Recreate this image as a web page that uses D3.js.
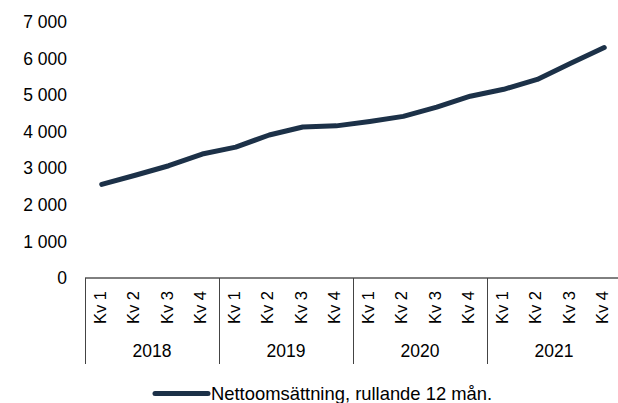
<!DOCTYPE html>
<html>
<head>
<meta charset="utf-8">
<script src="https://cdn.jsdelivr.net/npm/d3@7"></script>
<style>
    body { margin: 0; background: #fff; }
    svg { display: block; font-family: "Liberation Sans", Arial, sans-serif; }
</style>
</head>
<body>
<div id="chart"></div>
<script>
// Nettoomsättning, rullande 12 mån. per kvartal

const years = ['2018', '2019', '2020', '2021'];
const quarters = ['Kv 1', 'Kv 2', 'Kv 3', 'Kv 4'];
const values = [2560, 2810, 3070, 3390, 3580, 3910, 4130, 4160,
                4280, 4420, 4670, 4970, 5160, 5430, 5870, 6300];
const yTicks = [0, 1000, 2000, 3000, 4000, 5000, 6000, 7000];
const seriesName = 'Nettoomsättning, rullande 12 mån.';

const width = 618;
const height = 403;
const margin = { top: 22, right: -3, bottom: 125, left: 85 };
const lineColor = '#1c3148';

const svg = d3.select('#chart')
    .append('svg')
    .attr('width', width)
    .attr('height', height);

// one slot per quarter, e.g. "2018|Kv 1"
const keys = [];
years.forEach(y => quarters.forEach(q => keys.push(y + '|' + q)));

const x = d3.scaleBand()
    .domain(keys)
    .range([margin.left, width - margin.right]);

const y = d3.scaleLinear()
    .domain([0, 7000])
    .range([height - margin.bottom, margin.top]);

const fmt = v => d3.format(',')(v).replace(/,/g, ' ');

// y labels (no axis line)
svg.append('g')
    .selectAll('text')
    .data(yTicks)
    .enter()
    .append('text')
    .attr('x', 67)
    .attr('y', d => y(d))
    .attr('dy', '0.35em')
    .attr('text-anchor', 'end')
    .attr('font-size', 17.5)
    .attr('fill', '#000')
    .text(fmt);

// x axis line
const y0 = y(0);
svg.append('line')
    .attr('x1', x.range()[0])
    .attr('x2', x.range()[1])
    .attr('y1', y0)
    .attr('y2', y0)
    .attr('stroke', '#000')
    .attr('stroke-width', 1);

// year separators
const bottomY = 364;
const sepX = years.map(yr => x(yr + '|' + quarters[0])).concat([x.range()[1]]);
svg.append('g')
    .selectAll('line')
    .data(sepX)
    .enter()
    .append('line')
    .attr('x1', d => Math.round(d) + 0.5)
    .attr('x2', d => Math.round(d) + 0.5)
    .attr('y1', y0)
    .attr('y2', bottomY)
    .attr('stroke', '#444')
    .attr('stroke-width', 1);

// quarter labels, rotated
svg.append('g')
    .selectAll('text')
    .data(keys)
    .enter()
    .append('text')
    .attr('transform', d => `translate(${x(d) + x.bandwidth() / 2 - 2},291) rotate(-90)`)
    .attr('dy', '0.35em')
    .attr('text-anchor', 'end')
    .attr('font-size', 16.5)
    .attr('fill', '#000')
    .text(d => d.split('|')[1]);

// year labels
svg.append('g')
    .selectAll('text')
    .data(years)
    .enter()
    .append('text')
    .attr('x', d => x(d + '|' + quarters[0]) + x.bandwidth() * 2)
    .attr('y', 357)
    .attr('text-anchor', 'middle')
    .attr('font-size', 17.5)
    .attr('fill', '#000')
    .text(d => d);

// the line
const line = d3.line()
    .x((d, i) => x(keys[i]) + x.bandwidth() / 2)
    .y(d => y(d));

svg.append('path')
    .datum(values)
    .attr('d', line)
    .attr('fill', 'none')
    .attr('stroke', lineColor)
    .attr('stroke-width', 5)
    .attr('stroke-linecap', 'round')
    .attr('stroke-linejoin', 'round');

// legend
const legend = svg.append('g');
legend.append('line')
    .attr('x1', 155)
    .attr('x2', 208)
    .attr('y1', 393.5)
    .attr('y2', 393.5)
    .attr('stroke', lineColor)
    .attr('stroke-width', 5)
    .attr('stroke-linecap', 'round');
legend.append('text')
    .attr('x', 211)
    .attr('y', 399.5)
    .attr('font-size', 18.4)
    .attr('fill', '#000')
    .text(seriesName);
</script>
</body>
</html>
